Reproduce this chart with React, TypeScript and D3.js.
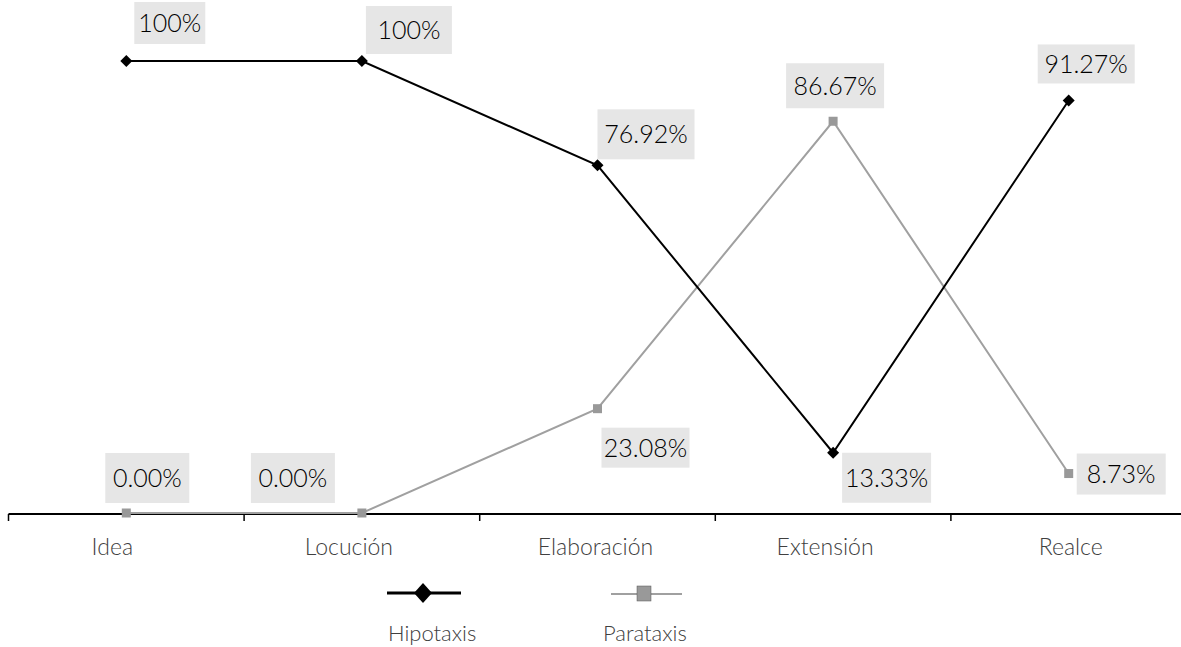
import React from "react";
import * as d3 from "d3";

const categories = ["Idea", "Locución", "Elaboración", "Extensión", "Realce"];
const hipotaxis = [100, 100, 76.92, 13.33, 91.27];
const parataxis = [0, 0, 23.08, 86.67, 8.73];
const hipotaxisLabels = ["100%", "100%", "76.92%", "13.33%", "91.27%"];
const parataxisLabels = ["0.00%", "0.00%", "23.08%", "86.67%", "8.73%"];
const seriesNames = ["Hipotaxis", "Parataxis"];

// layout: label box centre offset from marker and box size [dx, dy, w, h]
const hipoBoxes = [
  [43.5, -38, 71, 42],
  [47, -31, 86, 48],
  [48.5, -31, 97, 50],
  [53.5, 25, 89, 50],
  [17.5, -36.5, 97, 39],
];
const paraBoxes = [
  [21, -35, 84, 50],
  [-69, -35, 84, 50],
  [48, 39, 88, 40],
  [2, -35.5, 98, 45],
  [52.5, 0.5, 89, 41],
];
const axisLabelDx = [-14, -13, -2, -8, 2];

const W = 1181;
const H = 647;
const FONT = "Lato, 'Open Sans', sans-serif";

export default function App() {
  const x = d3.scaleBand<string>().domain(categories).range([8.5, 1186.5]).padding(0);
  const y = d3.scaleLinear().domain([0, 100]).range([513, 61]);
  const cx = (c: string) => (x(c) as number) + x.bandwidth() / 2;
  const line = d3
    .line<number>()
    .x((_, i) => cx(categories[i]))
    .y((d) => y(d));

  const black = "#000";
  const grey = "#a0a0a0";
  const greyMarker = "#999999";

  const diamond = (px: number, py: number, r: number) =>
    `M${px},${py - r}L${px + r},${py}L${px},${py + r}L${px - r},${py}Z`;

  const renderLabels = (vals: number[], labels: string[], boxes: number[][]) =>
    vals.map((v, i) => {
      const [dx, dy, w, h] = boxes[i];
      const mx = cx(categories[i]) + dx;
      const my = y(v) + dy;
      return (
        <g key={i}>
          <rect x={mx - w / 2} y={my - h / 2} width={w} height={h} fill="#e6e6e6" />
          <text
            x={mx}
            y={my}
            dy="0.36em"
            textAnchor="middle"
            fontSize={25}
            fontWeight={300}
            fill="#000"
            fontFamily={FONT}
          >
            {labels[i]}
          </text>
        </g>
      );
    });

  const y0 = y(0);

  return (
    <svg
      width={W}
      height={H}
      style={{ position: "absolute", left: 0, top: 0 }}
      fontFamily={FONT}
    >
      <rect width={W} height={H} fill="#fff" />
      {/* axis */}
      <line x1={x.range()[0]} x2={W} y1={y0 + 1} y2={y0 + 1} stroke={black} strokeWidth={2} />
      {categories.map((c) => (
        <line
          key={c}
          x1={x(c) as number}
          x2={x(c) as number}
          y1={y0 + 1}
          y2={y0 + 8}
          stroke={black}
          strokeWidth={1.5}
        />
      ))}
      {categories.map((c, i) => (
        <text
          key={c}
          x={cx(c) + axisLabelDx[i]}
          y={555}
          textAnchor="middle"
          fontSize={23}
          fontWeight={300}
          fill="#404040"
        >
          {c}
        </text>
      ))}

      {/* parataxis */}
      <path d={line(parataxis) || ""} fill="none" stroke={grey} strokeWidth={2} />
      {parataxis.map((v, i) => (
        <rect key={i} x={cx(categories[i]) - 4.5} y={y(v) - 4.5} width={9} height={9} fill={greyMarker} />
      ))}
      {/* hipotaxis */}
      <path d={line(hipotaxis) || ""} fill="none" stroke={black} strokeWidth={2} />
      {hipotaxis.map((v, i) => (
        <path key={i} d={diamond(cx(categories[i]), y(v), 6)} fill={black} />
      ))}

      {renderLabels(hipotaxis, hipotaxisLabels, hipoBoxes)}
      {renderLabels(parataxis, parataxisLabels, paraBoxes)}

      {/* legend */}
      <line x1={387} x2={461} y1={593} y2={593} stroke={black} strokeWidth={3} />
      <path d={`M423,583L432,593L423,603L414,593Z`} fill={black} />
      <text x={388} y={641} fontSize={22} fontWeight={300} fill="#404040">
        {seriesNames[0]}
      </text>
      <line x1={611} x2={682} y1={594} y2={594} stroke={grey} strokeWidth={2} />
      <rect x={637} y={586} width={14} height={15} fill={greyMarker} stroke="#555" strokeWidth={0.5} />
      <text x={603} y={641} fontSize={22} fontWeight={300} fill="#404040">
        {seriesNames[1]}
      </text>
    </svg>
  );
}
